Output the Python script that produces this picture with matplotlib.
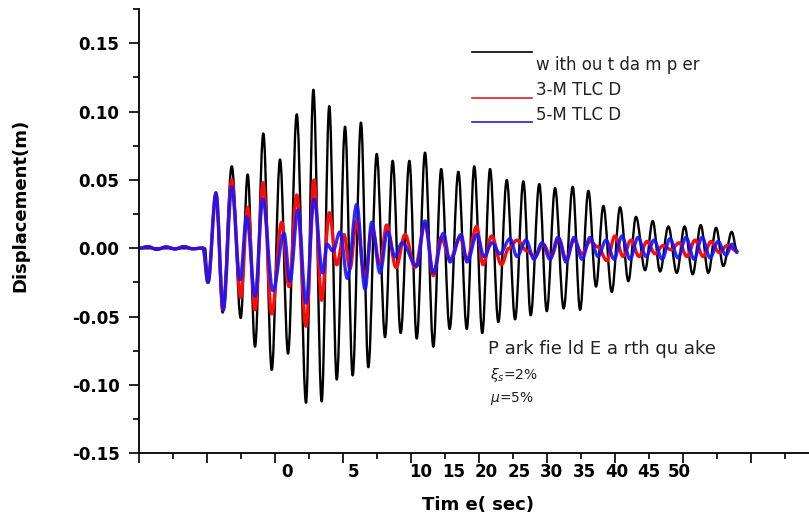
import matplotlib
matplotlib.use("Agg")
import matplotlib.pyplot as plt
import matplotlib.transforms as mtransforms
from matplotlib.path import Path
from matplotlib.patches import PathPatch
from matplotlib.ticker import MultipleLocator, StrMethodFormatter

plt.rcParams["font.family"] = ["DejaVu Sans"]
plt.rcParams["axes.unicode_minus"] = False

# turning points of each response history (time, displacement in m)
t_nodamp = [0.00, 4.85, 5.07, 5.66, 6.15, 6.82, 7.48, 7.99, 8.53, 9.14, 9.76, 10.37,
            10.96, 11.60, 12.28, 12.82, 13.43, 13.99, 14.54, 15.15, 15.71, 16.32, 16.86,
            17.48, 18.09, 18.65, 19.24, 19.88, 20.42, 21.03, 21.64, 22.22, 22.84, 23.48,
            24.10, 24.65, 25.24, 25.81, 26.42, 27.04, 27.65, 28.26, 28.80, 29.43, 29.98,
            30.59, 31.22, 31.89, 32.43, 33.04, 33.60, 34.14, 34.76, 35.37, 35.98, 36.54,
            37.21, 37.77, 38.31, 38.92, 39.54, 40.11, 40.71, 41.30, 41.86, 42.43, 42.96,
            43.58, 43.97]
d_nodamp = [0.000, 0.000, -0.025, 0.041, -0.047, 0.060, -0.051, 0.054, -0.072, 0.084,
            -0.089, 0.065, -0.077, 0.098, -0.113, 0.116, -0.112, 0.104, -0.096, 0.089,
            -0.093, 0.092, -0.087, 0.069, -0.065, 0.064, -0.062, 0.064, -0.066, 0.070,
            -0.072, 0.058, -0.059, 0.056, -0.059, 0.060, -0.062, 0.058, -0.054, 0.050,
            -0.052, 0.049, -0.049, 0.047, -0.046, 0.044, -0.044, 0.045, -0.045, 0.042,
            -0.028, 0.031, -0.032, 0.030, -0.024, 0.023, -0.016, 0.020, -0.017, 0.016,
            -0.018, 0.016, -0.019, 0.017, -0.018, 0.015, -0.013, 0.012, -0.002]

t_3mtlcd = [0.00, 0.66, 1.32, 1.99, 2.65, 3.31, 3.97, 4.71, 5.07, 5.66, 6.18, 6.82, 7.48,
            7.99, 8.53, 9.12, 9.76, 10.49, 11.03, 11.60, 12.28, 12.87, 13.43, 13.99, 14.54,
            15.07, 15.51, 15.99, 16.62, 17.13, 17.72, 18.21, 18.90, 19.56, 20.29, 21.03,
            21.64, 22.21, 22.87, 23.60, 24.12, 24.83, 25.29, 25.93, 26.65, 27.19, 27.79,
            28.53, 29.12, 29.71, 30.29, 30.88, 31.40, 31.99, 32.57, 33.16, 33.75, 34.39,
            35.00, 35.59, 36.18, 36.76, 37.35, 37.94, 38.53, 39.12, 39.71, 40.29, 40.88,
            41.47, 42.06, 42.65, 43.24, 43.97]
d_3mtlcd = [0.0000, 0.0012, -0.0008, 0.0010, -0.0005, 0.0012, -0.0004, 0.0003, -0.025,
            0.040, -0.045, 0.050, -0.036, 0.030, -0.045, 0.048, -0.048, 0.019, -0.028,
            0.039, -0.057, 0.050, -0.038, 0.026, -0.012, 0.010, -0.015, 0.020, -0.022,
            0.015, -0.012, 0.017, -0.014, 0.010, -0.014, 0.018, -0.020, 0.008, -0.008,
            0.008, -0.008, 0.016, -0.012, 0.009, -0.012, 0.000, 0.006, -0.002, -0.006,
            0.003, -0.006, 0.007, -0.008, 0.006, -0.004, 0.005, 0.001, -0.009, 0.009,
            -0.006, 0.006, -0.006, 0.005, -0.004, 0.002, -0.001, 0.004, -0.006, 0.006,
            -0.006, 0.005, -0.003, 0.002, -0.002]

t_5mtlcd = [0.00, 0.66, 1.32, 1.99, 2.65, 3.31, 3.97, 4.71, 5.07, 5.66, 6.20, 6.82, 7.43,
            7.92, 8.53, 9.10, 9.85, 10.66, 11.10, 11.69, 12.28, 12.87, 13.51, 13.82, 14.26,
            14.78, 15.32, 16.01, 16.62, 17.11, 17.72, 18.27, 18.82, 19.34, 20.42, 21.03,
            21.64, 22.38, 22.87, 23.68, 24.12, 24.85, 25.37, 25.96, 26.54, 27.28, 27.79,
            28.46, 29.04, 29.63, 30.22, 30.81, 31.40, 31.99, 32.57, 33.16, 33.75, 34.34,
            34.93, 35.51, 36.10, 36.69, 37.28, 37.87, 38.46, 39.04, 39.63, 40.22, 40.81,
            41.40, 41.99, 42.57, 43.16, 43.60, 43.97]
d_5mtlcd = [0.0000, 0.0012, -0.0008, 0.0010, -0.0005, 0.0012, -0.0004, 0.0003, -0.025,
            0.040, -0.045, 0.045, -0.023, 0.023, -0.035, 0.036, -0.031, 0.011, -0.024,
            0.028, -0.040, 0.036, -0.018, 0.003, -0.002, 0.012, -0.022, 0.032, -0.030,
            0.019, -0.018, 0.012, -0.006, 0.004, -0.013, 0.020, -0.018, 0.011, -0.010,
            0.010, -0.010, 0.010, -0.006, 0.004, -0.004, 0.007, -0.006, 0.006, -0.008,
            0.004, -0.008, 0.008, -0.010, 0.008, -0.008, 0.008, -0.006, 0.006, -0.008,
            0.009, -0.008, 0.008, -0.006, 0.006, -0.008, 0.007, -0.007, 0.008, -0.008,
            0.008, -0.007, 0.005, -0.005, 0.003, -0.003]

# printed time labels and where they sit along the axis
time_labels = ["0", "5", "10", "15", "20", "25", "30", "35", "40", "45", "50"]
time_label_pos = [10.88, 15.74, 20.74, 23.16, 25.51, 27.94, 30.29, 32.72, 35.15, 37.50, 39.70]


def smooth_path(t, d, k=0.36):
    # cubic segments with flat tangents at every turning point
    verts = [(t[0], d[0])]
    codes = [Path.MOVETO]
    for i in range(1, len(t)):
        h = (t[i] - t[i - 1]) * k
        verts += [(t[i - 1] + h, d[i - 1]), (t[i] - h, d[i]), (t[i], d[i])]
        codes += [Path.CURVE4] * 3
    return Path(verts, codes)


fig = plt.figure(figsize=(8.09, 5.24), dpi=100)
ax = fig.add_axes([0.1718, 0.1349, 0.8282, 0.8477])

series = [
    (t_nodamp, d_nodamp, "black", 1.7, 1.0),
    (t_3mtlcd, d_3mtlcd, "#ff0a0a", 2.4, 1.0),
    (t_5mtlcd, d_5mtlcd, "#1414ff", 2.4, 0.9),
]
for t, d, c, lw, a in series:
    ax.add_patch(PathPatch(smooth_path(t, d), fill=False, edgecolor=c, lw=lw,
                           alpha=a, capstyle="round", joinstyle="round"))

ax.set_xlim(0, 49.26)
ax.set_ylim(-0.15, 0.175)

for side in ["top", "right"]:
    ax.spines[side].set_visible(False)
for side in ["left", "bottom"]:
    ax.spines[side].set_linewidth(1.3)

ax.xaxis.set_major_locator(MultipleLocator(5))
ax.xaxis.set_minor_locator(MultipleLocator(2.5))
ax.set_xticklabels([])
ax.yaxis.set_major_locator(MultipleLocator(0.05))
ax.yaxis.set_minor_locator(MultipleLocator(0.025))
ax.yaxis.set_major_formatter(StrMethodFormatter("{x:.2f}"))
ax.tick_params(which="major", direction="out", length=7, width=1.2)
ax.tick_params(which="minor", direction="out", length=4, width=1.2)
ax.tick_params(axis="y", labelsize=12, pad=7)
for lbl in ax.get_yticklabels():
    lbl.set_fontweight("bold")

xtrans = mtransforms.blended_transform_factory(ax.transData, ax.transAxes)
for lab, pos in zip(time_labels, time_label_pos):
    ax.text(pos, -0.042, lab, transform=xtrans, ha="center", va="center",
            fontsize=12, fontweight="bold")

ax.set_ylabel("Displacement(m)", fontsize=13, fontweight="bold")
ax.yaxis.set_label_coords(-0.163, 0.559)
ax.text(0.506, -0.116, "Tim e( sec)", transform=ax.transAxes, ha="center",
        va="center", fontsize=13, fontweight="bold")

# legend drawn by hand: sample lines and their captions
leg = [("black", 0.904, "w ith ou t da m p er", 0.874),
       ("#e02020", 0.799, "3-M TLC D", 0.819),
       ("#2020d0", 0.7465, "5-M TLC D", 0.762)]
for c, ly, txt, ty in leg:
    ax.plot([0.4966, 0.586], [ly, ly], color=c, lw=1.2, transform=ax.transAxes)
    ax.text(0.5925, ty, txt, transform=ax.transAxes, ha="left", va="center",
            fontsize=12, color="#222222")

ax.text(0.521, 0.2348, "P ark fie ld E a rth qu ake", transform=ax.transAxes,
        ha="left", va="center", fontsize=13, color="#222222")
ax.text(0.524, 0.176, r"$\xi_s$=2%", transform=ax.transAxes, ha="left",
        va="center", fontsize=10, color="#222222")
ax.text(0.524, 0.1245, r"$\mu$=5%", transform=ax.transAxes, ha="left",
        va="center", fontsize=10, color="#222222")

fig.savefig("out.png", dpi=100)
